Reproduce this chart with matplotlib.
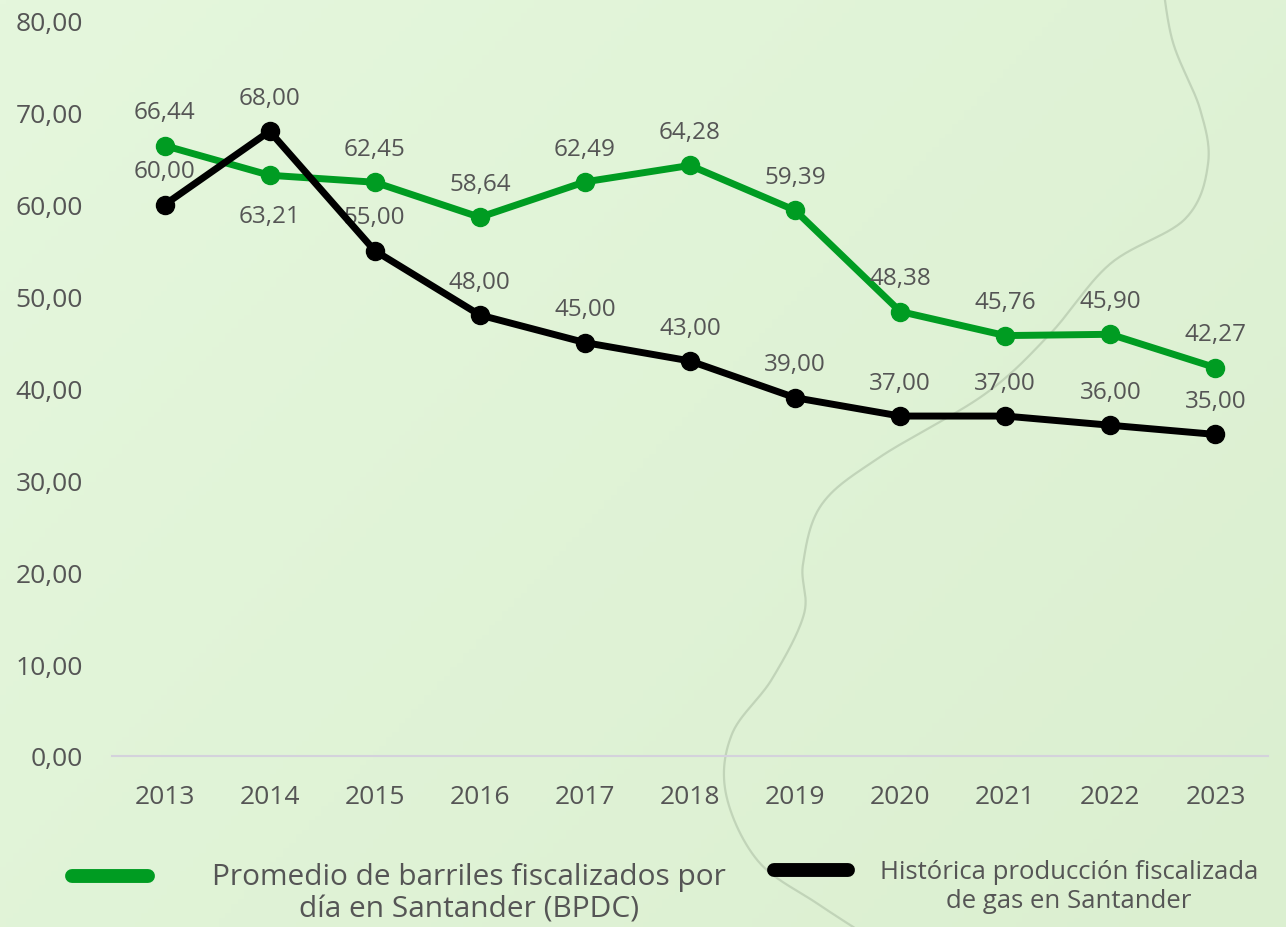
import matplotlib.pyplot as plt
import numpy as np
from matplotlib.lines import Line2D

plt.rcParams['font.family'] = ['Open Sans', 'DejaVu Sans']

years = ['2013', '2014', '2015', '2016', '2017', '2018', '2019', '2020', '2021', '2022', '2023']
barriles = [66.44, 63.21, 62.45, 58.64, 62.49, 64.28, 59.39, 48.38, 45.76, 45.90, 42.27]
gas = [60.00, 68.00, 55.00, 48.00, 45.00, 43.00, 39.00, 37.00, 37.00, 36.00, 35.00]
y_ticks = [0, 10, 20, 30, 40, 50, 60, 70, 80]

label_barriles = 'Promedio de barriles fiscalizados por\ndía en Santander (BPDC)'
label_gas = 'Histórica producción fiscalizada\nde gas en Santander'

verde = '#009c22'
negro = '#000000'
gris = '#555555'

W, H = 1286, 928
fig = plt.figure(figsize=(W / 100, H / 100), dpi=100)

# fondo verde claro con degradado suave
bg = fig.add_axes([0, 0, 1, 1], zorder=-10)
gx = np.linspace(0, 1, 200)
GX, GY = np.meshgrid(gx, gx)
mix = 0.6 * GX + 0.4 * GY
c1 = np.array([0xe5, 0xf7, 0xdd]) / 255
c2 = np.array([0xdb, 0xef, 0xd0]) / 255
img = c1[None, None, :] * (1 - mix[..., None]) + c2[None, None, :] * mix[..., None]
bg.imshow(img, extent=[0, W, H, 0], aspect='auto', origin='upper')

# línea decorativa ondulada (Catmull-Rom en píxeles)
pts = np.array([(1160, -40), (1172, 40), (1200, 110), (1208, 165), (1185, 220), (1110, 265),
                (1050, 335), (985, 395), (880, 458), (822, 505), (803, 565), (804, 615),
                (772, 680), (732, 735), (726, 795), (758, 862), (818, 905), (880, 945)],
               dtype=float)
ext = np.vstack([pts[0], pts, pts[-1]])
curve = []
for k in range(1, len(ext) - 2):
    p0, p1, p2, p3 = ext[k - 1], ext[k], ext[k + 1], ext[k + 2]
    t = np.linspace(0, 1, 30)[:, None]
    curve.append(0.5 * ((2 * p1) + (-p0 + p2) * t + (2 * p0 - 5 * p1 + 4 * p2 - p3) * t ** 2
                        + (-p0 + 3 * p1 - 3 * p2 + p3) * t ** 3))
curve = np.vstack(curve)
bg.plot(curve[:, 0], curve[:, 1], color='#bccfb4', lw=1.6, alpha=0.85)
bg.set_xlim(0, W)
bg.set_ylim(H, 0)
bg.axis('off')

ax = fig.add_axes([112 / W, 171 / H, 1156 / W, 735 / H])
ax.patch.set_alpha(0)
x = np.arange(len(years))

ax.plot(x, barriles, color=verde, lw=5, marker='o', ms=13, zorder=3)
ax.plot(x, gas, color=negro, lw=5, marker='o', ms=13, zorder=4)

for i, v in enumerate(barriles):
    dy = -29 if i == 1 else 24
    ax.annotate(f'{v:.2f}'.replace('.', ','), (x[i], v), textcoords='offset points',
                xytext=(0, dy), ha='center', va='center', fontsize=17.5, color=gris)
for i, v in enumerate(gas):
    ax.annotate(f'{v:.2f}'.replace('.', ','), (x[i], v), textcoords='offset points',
                xytext=(0, 24), ha='center', va='center', fontsize=17.5, color=gris)

ax.set_xlim(-0.5, len(years) - 0.5)
ax.set_ylim(0, 80)
ax.set_xticks(x)
ax.set_xticklabels(years)
ax.set_yticks(y_ticks)
ax.set_yticklabels([f'{t:.2f}'.replace('.', ',') for t in y_ticks])
ax.tick_params(axis='both', length=0, labelsize=19, labelcolor=gris)
ax.tick_params(axis='x', pad=20)
ax.tick_params(axis='y', pad=21)
for s in ['top', 'right', 'left']:
    ax.spines[s].set_visible(False)
ax.spines['bottom'].set_color('#d4d2dc')
ax.spines['bottom'].set_linewidth(1.5)

# leyenda
fig.add_artist(Line2D([72 / W, 148 / W], [1 - 877 / H] * 2, transform=fig.transFigure,
                      color=verde, lw=10, solid_capstyle='round'))
fig.text(469 / W, 1 - 894 / H, label_barriles, ha='center', va='center',
         fontsize=21.5, color=gris, linespacing=1.15)
fig.add_artist(Line2D([774 / W, 848 / W], [1 - 871 / H] * 2, transform=fig.transFigure,
                      color=negro, lw=10, solid_capstyle='round'))
fig.text(1069 / W, 1 - 887 / H, label_gas, ha='center', va='center',
         fontsize=18.5, color=gris, linespacing=1.25)

fig.savefig('out.png', dpi=100)
